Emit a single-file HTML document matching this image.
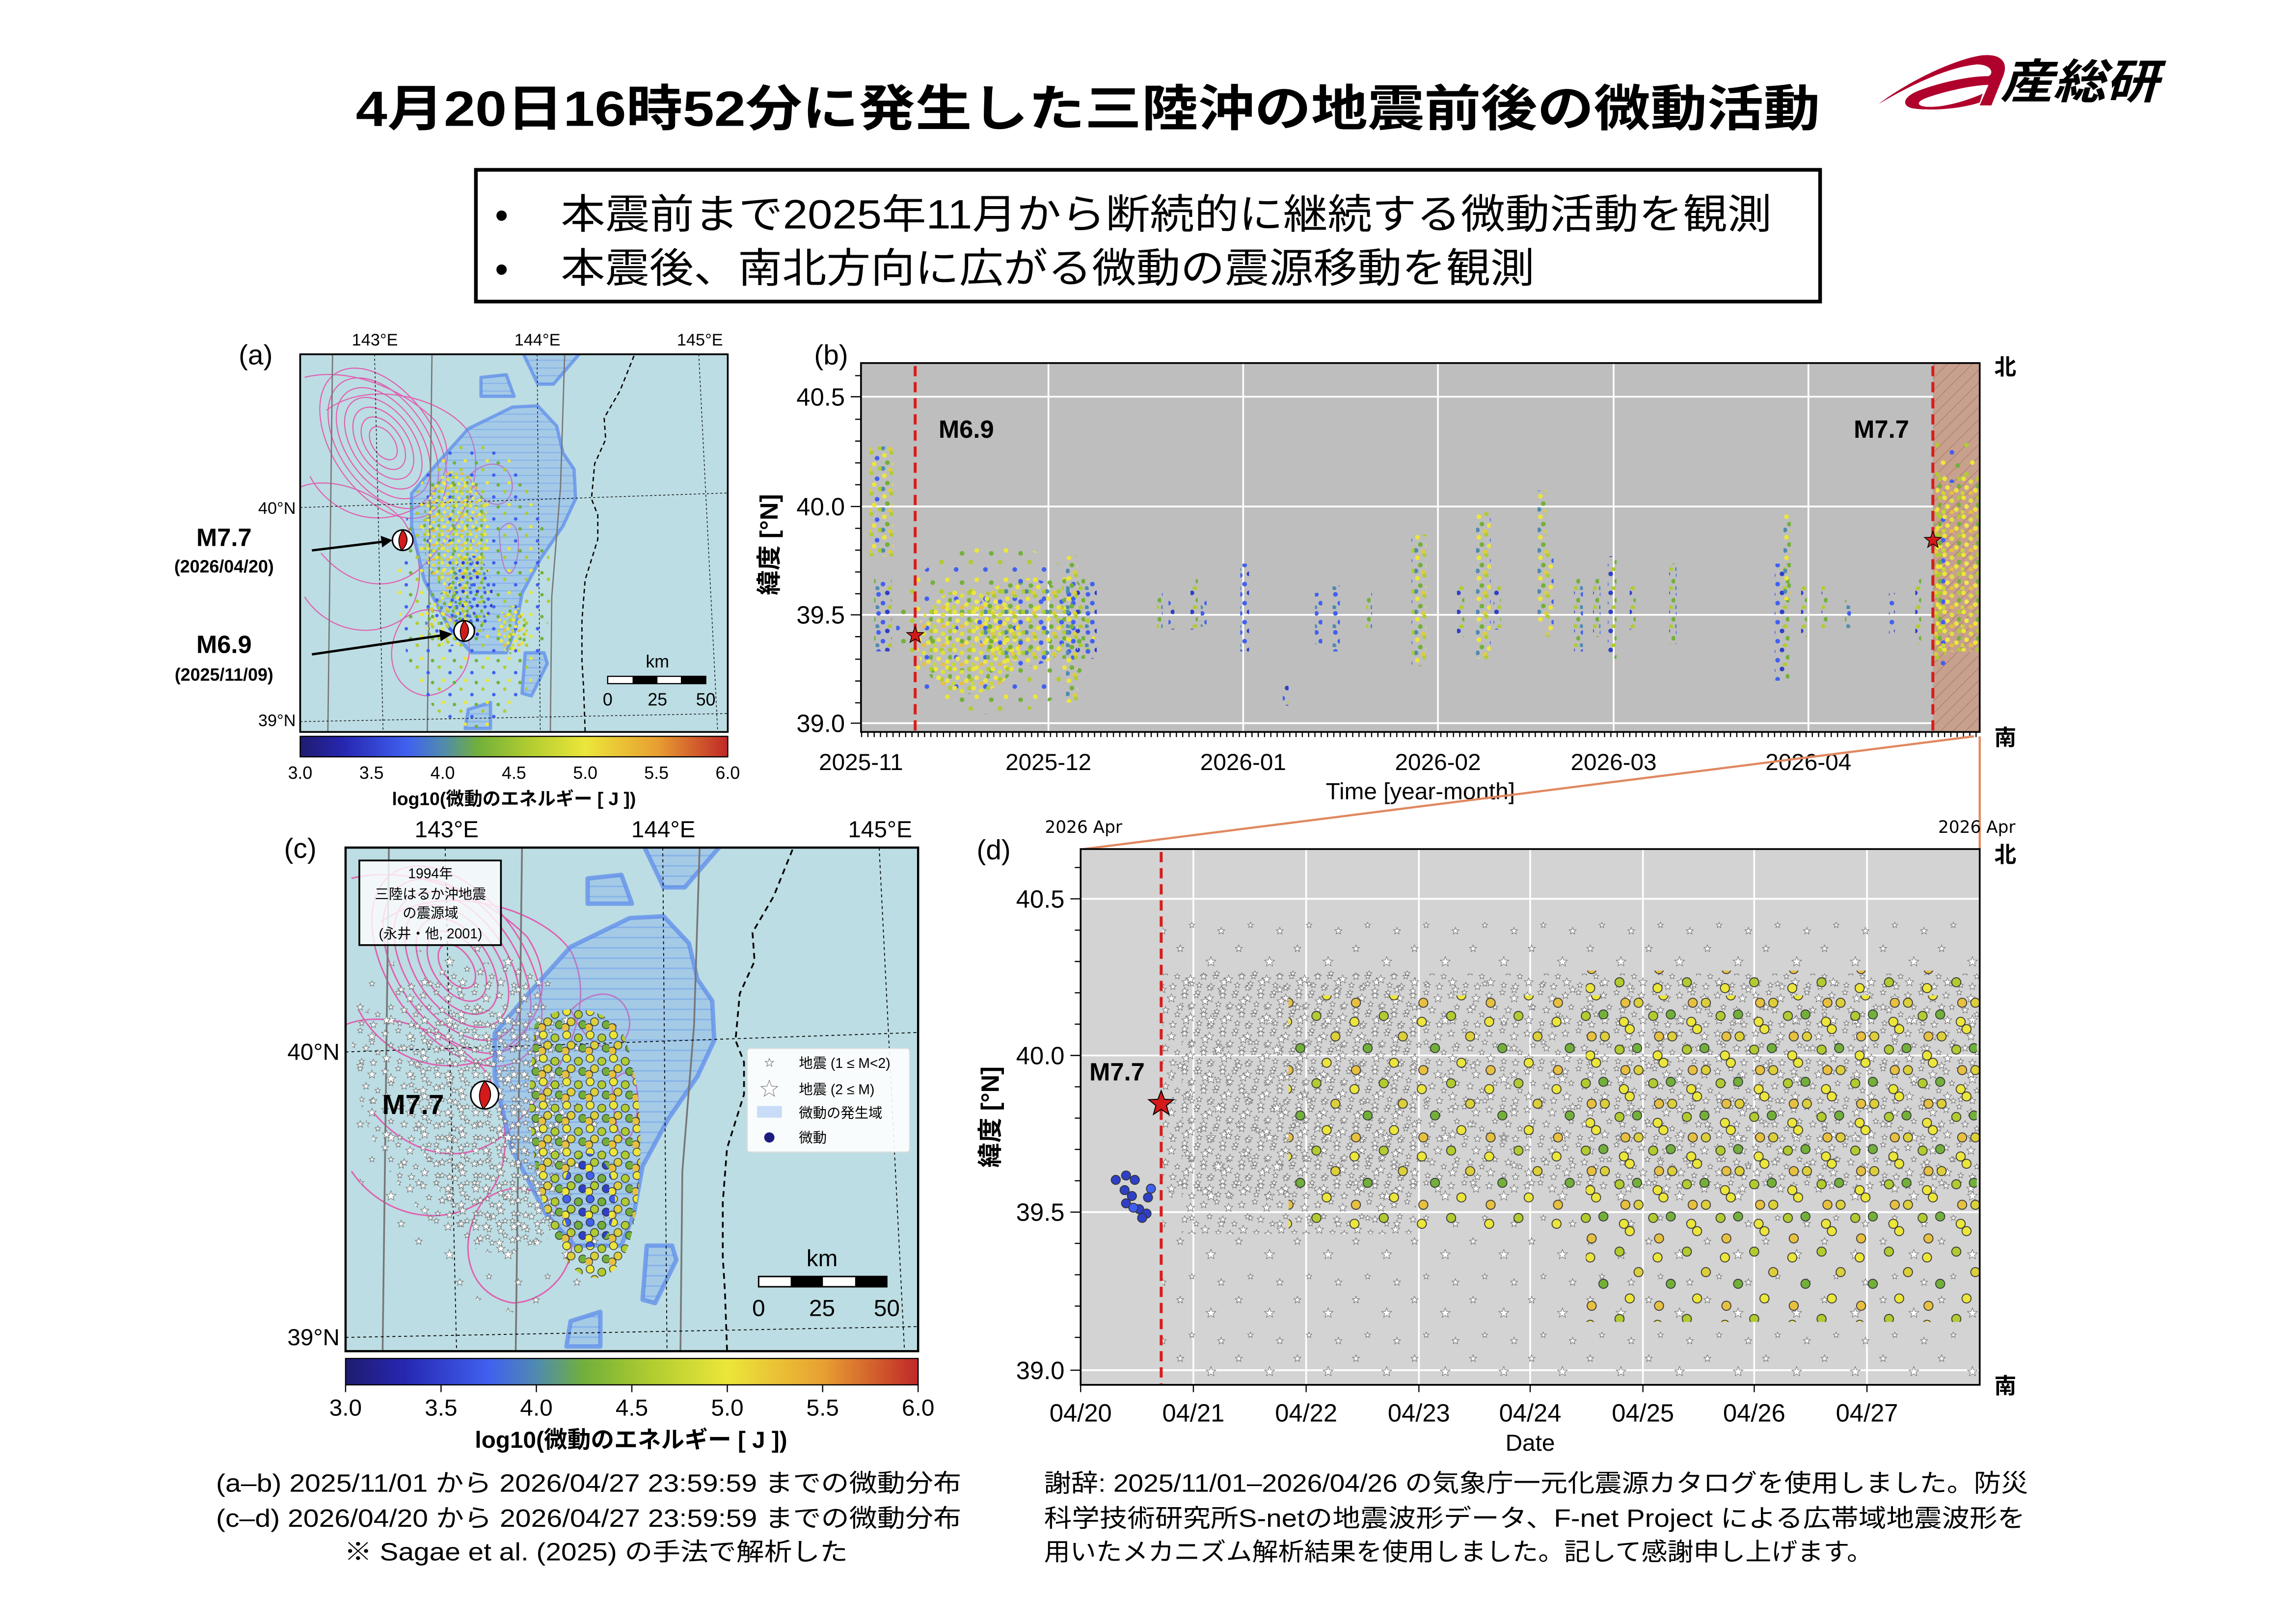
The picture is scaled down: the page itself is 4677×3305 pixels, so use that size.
<!DOCTYPE html>
<html><head><meta charset="utf-8">
<style>
html,body{margin:0;padding:0;background:#fff;}
svg{display:block;}
text{font-family:"Liberation Sans","Noto Sans CJK JP",sans-serif;}
.dv{font-family:"DejaVu Sans","Liberation Sans",sans-serif;}
</style></head>
<body>
<svg xmlns="http://www.w3.org/2000/svg" xmlns:xlink="http://www.w3.org/1999/xlink" width="4677" height="3305" viewBox="0 0 1568 1108">
<defs>
  <path id="st" d="M0,-1 L0.247,-0.34 L0.951,-0.309 L0.399,0.13 L0.588,0.809 L0,0.42 L-0.588,0.809 L-0.399,0.13 L-0.951,-0.309 L-0.247,-0.34Z" vector-effect="non-scaling-stroke"/>
  <linearGradient id="cb" x1="0" x2="1" y1="0" y2="0">
    <stop offset="0" stop-color="#1f1c6e"/><stop offset="0.1" stop-color="#2626b0"/>
    <stop offset="0.25" stop-color="#4060f0"/><stop offset="0.333" stop-color="#4f8ab0"/>
    <stop offset="0.417" stop-color="#72b03a"/><stop offset="0.533" stop-color="#b0cc30"/>
    <stop offset="0.667" stop-color="#ece63a"/><stop offset="0.833" stop-color="#e8a032"/>
    <stop offset="1" stop-color="#c02828"/>
  </linearGradient>
  <pattern id="hz" width="10" height="7" patternUnits="userSpaceOnUse">
    <rect width="10" height="7" fill="rgba(120,165,235,0.35)"/>
    <line x1="0" y1="3.5" x2="10" y2="3.5" stroke="rgba(100,150,240,0.45)" stroke-width="1"/>
  </pattern>
  <pattern id="dg" width="6" height="6" patternUnits="userSpaceOnUse" patternTransform="rotate(45)">
    <rect width="6" height="6" fill="#c8a08e"/>
    <line x1="0" y1="0" x2="0" y2="6" stroke="#b08070" stroke-width="1"/>
  </pattern>
  <pattern id="pA" width="14" height="14" patternUnits="userSpaceOnUse">
    <circle cx="2" cy="3" r="1.6" fill="#ece63a"/><circle cx="7" cy="1" r="1.6" fill="#b0cc30"/><circle cx="11" cy="5" r="1.6" fill="#4060f0"/>
    <circle cx="4" cy="8" r="1.6" fill="#72b03a"/><circle cx="9" cy="9" r="1.6" fill="#ece63a"/><circle cx="13" cy="12" r="1.6" fill="#b0cc30"/>
    <circle cx="1" cy="12" r="1.6" fill="#4f8ab0"/><circle cx="6" cy="13" r="1.6" fill="#dccf3a"/>
  </pattern>
  <pattern id="pY" width="13" height="13" patternUnits="userSpaceOnUse">
    <circle cx="2" cy="2" r="1.6" fill="#ece63a"/><circle cx="7" cy="4" r="1.6" fill="#dde040"/><circle cx="12" cy="2" r="1.6" fill="#b0cc30"/>
    <circle cx="4" cy="8" r="1.6" fill="#f0e84a"/><circle cx="10" cy="10" r="1.6" fill="#ece63a"/><circle cx="12" cy="7" r="1.6" fill="#72b03a"/>
    <circle cx="7" cy="12" r="1.6" fill="#e8c040"/><circle cx="1" cy="12" r="1.6" fill="#c8d838"/>
  </pattern>
  <pattern id="pB" width="13" height="13" patternUnits="userSpaceOnUse">
    <circle cx="2" cy="3" r="1.6" fill="#4060f0"/><circle cx="8" cy="2" r="1.6" fill="#2f40c8"/><circle cx="12" cy="7" r="1.6" fill="#72b03a"/>
    <circle cx="5" cy="9" r="1.6" fill="#4060f0"/><circle cx="10" cy="12" r="1.6" fill="#b0cc30"/><circle cx="1" cy="12" r="1.6" fill="#4f8ab0"/>
  </pattern>
  <pattern id="pS" width="20" height="20" patternUnits="userSpaceOnUse">
    <circle cx="3" cy="4" r="1.6" fill="#b0cc30"/><circle cx="13" cy="9" r="1.6" fill="#4060f0"/><circle cx="7" cy="16" r="1.6" fill="#ece63a"/><circle cx="17" cy="18" r="1.6" fill="#72b03a"/>
  </pattern>
  <pattern id="pSt" width="26" height="26" patternUnits="userSpaceOnUse">
    <g fill="#fff" stroke="#666" stroke-width="1">
      <use href="#st" transform="translate(3,4) scale(2.5)"/><use href="#st" transform="translate(12,2) scale(2)"/><use href="#st" transform="translate(20,6) scale(3)"/>
      <use href="#st" transform="translate(7,12) scale(2)"/><use href="#st" transform="translate(16,14) scale(2.5)"/><use href="#st" transform="translate(24,17) scale(2)"/>
      <use href="#st" transform="translate(4,21) scale(3)"/><use href="#st" transform="translate(13,23) scale(2)"/><use href="#st" transform="translate(21,24) scale(2.5)"/>
    </g>
  </pattern>
  <pattern id="pSt2" width="40" height="40" patternUnits="userSpaceOnUse">
    <g fill="#fff" stroke="#666" stroke-width="1">
      <use href="#st" transform="translate(6,8) scale(2.5)"/><use href="#st" transform="translate(27,17) scale(3.5)"/><use href="#st" transform="translate(14,32) scale(2)"/><use href="#st" transform="translate(34,36) scale(2.5)"/>
    </g>
  </pattern>
  <pattern id="pC" width="46" height="46" patternUnits="userSpaceOnUse">
    <g stroke="#333" stroke-width="0.6">
      <circle cx="5" cy="8" r="3.1" fill="#ece63a"/><circle cx="25" cy="4" r="3.1" fill="#b0cc30"/><circle cx="38" cy="18" r="3.1" fill="#dccf3a"/>
      <circle cx="14" cy="26" r="3.1" fill="#72b03a"/><circle cx="32" cy="36" r="3.1" fill="#ece63a"/><circle cx="6" cy="41" r="3.1" fill="#e8c040"/>
    </g>
  </pattern>
  <pattern id="pC2" width="16" height="16" patternUnits="userSpaceOnUse">
    <g stroke="#333" stroke-width="0.5">
      <circle cx="3" cy="3" r="2.7" fill="#ece63a"/><circle cx="11" cy="5" r="2.7" fill="#b0cc30"/><circle cx="6" cy="10" r="2.7" fill="#dccf3a"/>
      <circle cx="14" cy="12" r="2.7" fill="#72b03a"/><circle cx="2" cy="14" r="2.7" fill="#e8c040"/>
    </g>
  </pattern>
  <pattern id="pC3" width="16" height="16" patternUnits="userSpaceOnUse">
    <g stroke="#333" stroke-width="0.5">
      <circle cx="3" cy="3" r="2.7" fill="#4060f0"/><circle cx="11" cy="5" r="2.7" fill="#72b03a"/><circle cx="6" cy="10" r="2.7" fill="#b0cc30"/>
      <circle cx="14" cy="12" r="2.7" fill="#2f40c8"/><circle cx="2" cy="14" r="2.7" fill="#ece63a"/>
    </g>
  </pattern>
  <clipPath id="cpc"><rect x="236" y="579" width="391" height="344"/></clipPath>
  <clipPath id="cpb"><rect x="588" y="248" width="764" height="252"/></clipPath>
  <clipPath id="cpd"><rect x="738" y="580" width="614" height="366"/></clipPath>
  <g id="basemap">
    <g clip-path="url(#cpc)">
      <rect x="236" y="579" width="391" height="344" fill="#bcdde3"/>
      <g fill="none" stroke="#e060b0" stroke-width="1">
        <ellipse cx="312" cy="660" rx="10" ry="17" transform="rotate(-35 312 660)"/>
        <ellipse cx="312" cy="660" rx="16" ry="27" transform="rotate(-35 312 660)"/>
        <ellipse cx="312" cy="660" rx="22" ry="37" transform="rotate(-35 312 660)"/>
        <ellipse cx="312" cy="660" rx="28" ry="47" transform="rotate(-35 312 660)"/>
        <ellipse cx="312" cy="660" rx="34" ry="57" transform="rotate(-35 312 660)"/>
        <ellipse cx="312" cy="660" rx="40" ry="67" transform="rotate(-35 312 660)"/>
        <ellipse cx="312" cy="660" rx="46" ry="77" transform="rotate(-35 312 660)"/>
        <path d="M240,600 C280,590 330,610 360,640 C380,670 370,700 340,720 C300,740 260,720 245,690"/>
        <path d="M236,700 C260,690 300,700 330,730 C350,760 350,800 330,820 C300,840 260,830 240,800"/>
        <path d="M330,820 C360,800 380,820 390,840 C395,870 370,890 350,890 C320,885 310,850 330,820"/>
        <path d="M390,690 C410,670 430,680 430,700 C428,720 405,725 390,690"/>
        <path d="M260,630 C300,600 370,620 390,650 C410,690 380,740 350,770 C320,800 280,790 255,760"/>
        <path d="M418,740 C428,725 438,735 435,760 C432,785 420,790 418,740"/>
      </g>
      <g fill="url(#hz)" stroke="rgba(95,140,235,0.75)" stroke-width="3" stroke-linejoin="round">
        <polygon points="337.8,705.8 360.9,678.8 389.7,646.8 430.1,627.1 453.2,625.9 470.5,644.4 476.3,668.9 486.4,683.7 487.8,710.7 476.3,735.3 456.1,764.8 438.8,796.8 433,828.8 424.4,850.9 392.6,850.9 372.4,828.8 349.3,784.5 337.8,735.3"/>
        <polygon points="438.8,576 493.6,576 467.6,606.2 453.2,606.2"/>
        <polygon points="401.3,600.1 424.4,597.6 431.6,617.3 401.3,617.3"/>
        <polygon points="441.7,850.9 459,850.9 461.9,860.7 447.4,890.2 438.8,887.8"/>
        <polygon points="389.7,902.5 410,896.1 410,919.8 386.8,919.8"/>
      </g>
      <g stroke="#777" stroke-width="1.2" fill="none">
        <line x1="265.6" y1="579" x2="261.3" y2="923"/>
        <line x1="356.5" y1="579" x2="352.2" y2="923"/>
        <path d="M477.8,579 L474,700 L466,800 L464.7,923"/>
      </g>
      <g stroke="#000" stroke-width="0.6" stroke-dasharray="2,2" fill="none">
        <line x1="304" y1="579" x2="311.8" y2="923"/>
        <line x1="452.6" y1="579" x2="455.5" y2="923"/>
        <line x1="600.4" y1="579" x2="617.7" y2="923"/>
        <line x1="236" y1="718.6" x2="627" y2="705.3"/>
        <line x1="236" y1="913.6" x2="627" y2="906.2"/>
      </g>
      <polyline fill="none" stroke="#000" stroke-width="1.2" stroke-dasharray="4,3" points="541.2,580.4 528.3,612.4 513.9,637 515.3,656.6 505.2,678.8 502.3,710.7 508.1,725.5 508.1,747.6 496.5,784.5 493.6,821.4 493.6,858.3 495.1,882.9 496.5,922.2"/>
    </g>
  </g>
</defs>

<text x="743" y="86" text-anchor="middle" font-size="34" font-weight="bold" textLength="1000" lengthAdjust="spacingAndGlyphs">4月20日16時52分に発生した三陸沖の地震前後の微動活動</text>
<g>
  <path d="M1283,71 C1300,58 1330,42 1352,38 C1366,36 1372,42 1368,52 L1360,72 L1352,72 L1358,58 C1348,58 1330,62 1318,66 C1306,70 1310,73 1318,73 C1330,73 1345,68 1354,64 L1352,70 C1340,74 1320,76 1306,74 C1298,72 1300,66 1310,62 C1326,56 1345,52 1358,52 C1362,50 1360,44 1350,44 C1330,46 1305,58 1283,71 Z" fill="#b0002c"/>
  <text x="1366" y="67" font-size="32" font-weight="bold" font-style="italic" textLength="108" lengthAdjust="spacingAndGlyphs">産総研</text>
</g>

<rect x="325" y="116" width="918" height="90" fill="#fff" stroke="#000" stroke-width="2.5"/>
<text x="338" y="156" font-size="26">•</text>
<text x="338" y="193" font-size="26">•</text>
<text x="383" y="156" font-size="28" textLength="827" lengthAdjust="spacingAndGlyphs">本震前まで2025年11月から断続的に継続する微動活動を観測</text>
<text x="383" y="193" font-size="28" textLength="665" lengthAdjust="spacingAndGlyphs">本震後、南北方向に広がる微動の震源移動を観測</text>

<!-- ===== Panel (a) ===== -->
<text x="163" y="249" font-size="19">(a)</text>
<use href="#basemap" transform="translate(205,242) scale(0.747,0.75) translate(-236,-579)"/>
<g clip-path="url(#cpc)" transform="translate(205,242) scale(0.747,0.75) translate(-236,-579)">
  <ellipse cx="395" cy="790" rx="70" ry="130" fill="url(#pS)"/>
  <ellipse cx="378" cy="740" rx="30" ry="55" fill="url(#pY)"/>
  <ellipse cx="392" cy="800" rx="20" ry="38" fill="url(#pB)"/>
  <ellipse cx="372" cy="820" rx="22" ry="25" fill="url(#pA)"/>
  <ellipse cx="430" cy="830" rx="14" ry="22" fill="url(#pY)"/>
</g>
<rect x="205" y="242" width="292" height="258" fill="none" stroke="#000" stroke-width="1.2"/>
<g class="dv" font-size="11.5" text-anchor="middle">
  <text x="256" y="236">143°E</text><text x="367" y="236">144°E</text><text x="478" y="236">145°E</text>
</g>
<g class="dv" font-size="11.5" text-anchor="end">
  <text x="202" y="351">40°N</text><text x="202" y="496">39°N</text>
</g>
<rect x="415" y="462" width="67" height="5" fill="#fff" stroke="#000" stroke-width="0.8"/>
<rect x="432" y="462" width="17" height="5" fill="#000"/><rect x="465" y="462" width="17" height="5" fill="#000"/>
<g class="dv" font-size="12" text-anchor="middle"><text x="449" y="456">km</text><text x="415" y="482">0</text><text x="449" y="482">25</text><text x="482" y="482">50</text></g>
<circle cx="275" cy="369" r="7" fill="#fff" stroke="#000"/><path d="M275,362 Q281.3,369 274.3,376 Q270.1,369 275,362Z" fill="#d41a1a" stroke="#000" stroke-width="0.6"/>
<circle cx="317" cy="431" r="7" fill="#fff" stroke="#000"/><path d="M317,424 Q323.3,431 316.3,438 Q312.1,431 317,424Z" fill="#d41a1a" stroke="#000" stroke-width="0.6"/>
<text x="153" y="373" font-size="17" font-weight="bold" text-anchor="middle">M7.7</text>
<text x="153" y="391" font-size="12" font-weight="bold" text-anchor="middle">(2026/04/20)</text>
<text x="153" y="446" font-size="17" font-weight="bold" text-anchor="middle">M6.9</text>
<text x="153" y="465" font-size="12" font-weight="bold" text-anchor="middle">(2025/11/09)</text>
<g stroke="#000" stroke-width="1.6">
  <line x1="213" y1="376" x2="262" y2="370"/><line x1="213" y1="447" x2="302" y2="434"/>
</g>
<polygon points="268,369 260,366 261,374" fill="#000"/>
<polygon points="309,433 300,430 301,438" fill="#000"/>
<rect x="205" y="503" width="292" height="14" fill="url(#cb)" stroke="#000" stroke-width="0.8"/>
<g class="dv" font-size="12" text-anchor="middle">
  <text x="205" y="532">3.0</text><text x="253.7" y="532">3.5</text><text x="302.3" y="532">4.0</text><text x="351" y="532">4.5</text><text x="399.7" y="532">5.0</text><text x="448.3" y="532">5.5</text><text x="497" y="532">6.0</text>
</g>
<text x="351" y="550" font-size="12.5" font-weight="bold" text-anchor="middle">log10(微動のエネルギー [ J ])</text>

<!-- ===== Panel (b) ===== -->
<text x="556" y="249" font-size="19">(b)</text>
<rect x="588" y="248" width="764" height="252" fill="#bebebe"/>
<g stroke="#fff" stroke-width="1.2">
  <line x1="588" y1="271" x2="1352" y2="271"/><line x1="588" y1="346" x2="1352" y2="346"/><line x1="588" y1="420" x2="1352" y2="420"/><line x1="588" y1="494" x2="1352" y2="494"/>
  <line x1="716" y1="248" x2="716" y2="500"/><line x1="849" y1="248" x2="849" y2="500"/><line x1="982" y1="248" x2="982" y2="500"/><line x1="1102" y1="248" x2="1102" y2="500"/><line x1="1235" y1="248" x2="1235" y2="500"/>
</g>
<rect x="1320" y="248" width="32" height="252" fill="url(#dg)"/>
<g clip-path="url(#cpb)">
  <rect x="594" y="305" width="16" height="75" fill="url(#pA)"/>
  <rect x="597" y="395" width="12" height="50" fill="url(#pB)"/>
  <ellipse cx="680" cy="430" rx="68" ry="58" fill="url(#pS)"/>
  <ellipse cx="662" cy="438" rx="36" ry="36" fill="url(#pY)"/>
  <ellipse cx="700" cy="425" rx="34" ry="30" fill="url(#pA)"/>
  <rect x="725" y="395" width="24" height="55" fill="url(#pB)"/>
  <rect x="728" y="380" width="8" height="100" fill="url(#pA)"/>
  <g fill="url(#pB)">
    <rect x="790" y="405" width="4" height="25"/><rect x="798" y="410" width="4" height="20"/>
    <rect x="813" y="395" width="5" height="35"/><rect x="820" y="408" width="4" height="20"/>
    <rect x="847" y="385" width="6" height="60"/><rect x="876" y="468" width="4" height="14"/>
    <rect x="898" y="405" width="5" height="35"/><rect x="910" y="400" width="5" height="45"/>
    <rect x="933" y="405" width="4" height="25"/><rect x="995" y="400" width="5" height="35"/>
    <rect x="1020" y="400" width="5" height="30"/><rect x="1075" y="395" width="6" height="50"/>
    <rect x="1088" y="395" width="5" height="40"/><rect x="1098" y="380" width="6" height="70"/>
    <rect x="1113" y="400" width="4" height="30"/><rect x="1140" y="385" width="5" height="55"/>
    <rect x="1212" y="385" width="10" height="80"/><rect x="1230" y="400" width="4" height="35"/>
    <rect x="1244" y="400" width="4" height="30"/><rect x="1260" y="410" width="4" height="20"/>
    <rect x="1290" y="405" width="4" height="30"/><rect x="1308" y="395" width="4" height="45"/>
  </g>
  <g fill="url(#pA)">
    <rect x="964" y="365" width="10" height="90"/><rect x="1008" y="350" width="10" height="100"/>
    <rect x="1050" y="335" width="6" height="90"/><rect x="1056" y="375" width="5" height="60"/>
    <rect x="1218" y="350" width="5" height="60"/><rect x="1321" y="345" width="8" height="110"/>
  </g>
  <rect x="1322" y="325" width="30" height="120" fill="url(#pY)"/>
  <rect x="1322" y="300" width="30" height="30" fill="url(#pS)"/>
</g>
<line x1="625" y1="250" x2="625" y2="500" stroke="#d91c1c" stroke-width="2" stroke-dasharray="7,4"/>
<line x1="1320" y1="250" x2="1320" y2="500" stroke="#d91c1c" stroke-width="2" stroke-dasharray="7,4"/>
<use href="#st" transform="translate(625,434) scale(6)" fill="#d41a1a" stroke="#000" stroke-width="1.5"/>
<use href="#st" transform="translate(1320,369) scale(6)" fill="#d41a1a" stroke="#000" stroke-width="1.5"/>
<text x="641" y="299" font-size="17" font-weight="bold">M6.9</text>
<text x="1266" y="299" font-size="17" font-weight="bold">M7.7</text>
<rect x="588" y="248" width="764" height="252" fill="none" stroke="#000" stroke-width="1.2"/>
<path stroke="#000" stroke-width="0.8" d="M584,256.6H588M584,286.4H588M584,301.3H588M584,316.2H588M584,331.1H588M584,360.9H588M584,375.8H588M584,390.7H588M584,405.6H588M584,434.9H588M584,450.3H588M584,465.2H588M584,480.1H588M581,271H588M581,346H588M581,420H588M581,494H588"/>
<line x1="588" y1="502" x2="1352" y2="502" stroke="#000" stroke-width="3" stroke-dasharray="0.8,3.5"/>
<g font-size="17" text-anchor="end">
  <text x="577" y="277">40.5</text><text x="577" y="352">40.0</text><text x="577" y="426">39.5</text><text x="577" y="500">39.0</text>
</g>
<g font-size="16" text-anchor="middle">
  <text x="588" y="526">2025-11</text><text x="716" y="526">2025-12</text><text x="849" y="526">2026-01</text><text x="982" y="526">2026-02</text><text x="1102" y="526">2026-03</text><text x="1235" y="526">2026-04</text>
</g>
<text x="970" y="546" font-size="16" text-anchor="middle">Time [year-month]</text>
<text x="0" y="0" font-size="17" font-weight="bold" text-anchor="middle" transform="translate(531,372) rotate(-90)">緯度 [°N]</text>
<text x="1362" y="256" font-size="15" font-weight="bold">北</text>
<text x="1362" y="509" font-size="15" font-weight="bold">南</text>

<g stroke="#e08860" stroke-width="1.5">
  <line x1="1348" y1="503" x2="740" y2="580"/><line x1="1352" y1="503" x2="1352" y2="580"/>
</g>

<!-- ===== Panel (c) ===== -->
<text x="194" y="586" font-size="19">(c)</text>
<use href="#basemap"/>
<g clip-path="url(#cpc)">
  <path d="M240,690 C250,660 290,640 330,645 C360,650 380,670 395,700 C410,740 420,800 410,860 C400,900 360,905 330,890 C290,870 250,830 240,790 Z" fill="url(#pSt2)"/>
  <path d="M240,700 C270,670 320,650 360,660 C385,680 390,760 380,830 C360,870 320,860 290,830 C260,800 240,760 240,700 Z" fill="url(#pSt)"/>
  <path d="M270,690 C300,670 340,675 365,700 C385,730 380,800 365,835 C340,855 305,830 290,800 C275,770 265,730 270,690 Z" fill="url(#pSt)" transform="translate(9,11)"/>
  <ellipse cx="330" cy="800" rx="35" ry="40" fill="url(#pSt)"/>
  <path d="M365,700 C380,685 410,685 425,705 C440,740 440,800 432,840 C425,875 405,880 390,865 C370,840 360,780 362,740 Z" fill="url(#pC2)"/>
  <ellipse cx="402" cy="820" rx="18" ry="32" fill="url(#pC3)"/>
</g>
<rect x="236" y="579" width="391" height="344" fill="none" stroke="#000" stroke-width="1.5"/>
<g class="dv" font-size="16" text-anchor="middle">
  <text x="305" y="572">143°E</text><text x="453" y="572">144°E</text><text x="601" y="572">145°E</text>
</g>
<g class="dv" font-size="16" text-anchor="end">
  <text x="232" y="724">40°N</text><text x="232" y="919">39°N</text>
</g>
<rect x="245.4" y="587.8" width="96.7" height="57.8" fill="rgba(255,255,255,0.8)" stroke="#000" stroke-width="1.2"/>
<g font-size="9.5" text-anchor="middle">
  <text x="294" y="600">1994年</text><text x="294" y="614">三陸はるか沖地震</text><text x="294" y="627">の震源域</text><text x="294" y="641">(永井・他, 2001)</text>
</g>
<rect x="510.3" y="716.2" width="110.9" height="70.8" rx="2" fill="rgba(255,255,255,0.9)" stroke="#ddd" stroke-width="0.8"/>
<use href="#st" transform="translate(525.4,726) scale(3)" fill="#fff" stroke="#666" stroke-width="1"/>
<use href="#st" transform="translate(525.4,744) scale(6)" fill="#fff" stroke="#666" stroke-width="1"/>
<rect x="517" y="755.5" width="17" height="8" fill="#c8dcf8"/>
<circle cx="525.4" cy="777" r="3.5" fill="#1c1c80"/>
<g font-size="9.5">
  <text x="545.6" y="729.5">地震 (1 ≤ M&lt;2)</text><text x="545.6" y="747.5">地震 (2 ≤ M)</text><text x="545.6" y="763.5">微動の発生域</text><text x="545.6" y="780.5">微動</text>
</g>
<rect x="518.1" y="872" width="87.5" height="7" fill="#fff" stroke="#000" stroke-width="1"/>
<rect x="540" y="872" width="22" height="7" fill="#000"/><rect x="584" y="872" width="21.6" height="7" fill="#000"/>
<g class="dv" font-size="16" text-anchor="middle"><text x="561.4" y="865">km</text><text x="518.1" y="899">0</text><text x="561.4" y="899">25</text><text x="605.6" y="899">50</text></g>
<circle cx="331" cy="748" r="9.5" fill="#fff" stroke="#000"/><path d="M331,738.5 Q339.55,748 330.05,757.5 Q324.35,748 331,738.5Z" fill="#d41a1a" stroke="#000" stroke-width="0.6"/>
<text x="261" y="761" font-size="19" font-weight="bold">M7.7</text>
<rect x="236" y="928" width="391" height="18" fill="url(#cb)" stroke="#000" stroke-width="0.8"/>
<path stroke="#000" stroke-width="0.8" d="M236,946V951M301.2,946V951M366.3,946V951M431.5,946V951M496.7,946V951M561.8,946V951M627,946V951"/>
<g class="dv" font-size="16" text-anchor="middle">
  <text x="236" y="967">3.0</text><text x="301.2" y="967">3.5</text><text x="366.3" y="967">4.0</text><text x="431.5" y="967">4.5</text><text x="496.7" y="967">5.0</text><text x="561.8" y="967">5.5</text><text x="627" y="967">6.0</text>
</g>
<text x="431" y="989" font-size="16" font-weight="bold" text-anchor="middle">log10(微動のエネルギー [ J ])</text>

<!-- ===== Panel (d) ===== -->
<text x="667" y="587" font-size="19">(d)</text>
<text class="dv" x="740" y="569" font-size="11.5" text-anchor="middle">2026 Apr</text>
<text class="dv" x="1350" y="569" font-size="11.5" text-anchor="middle">2026 Apr</text>
<rect x="738" y="580" width="614" height="366" fill="#d3d3d3"/>
<g stroke="#fff" stroke-width="1.2">
  <line x1="738" y1="614" x2="1352" y2="614"/><line x1="738" y1="721" x2="1352" y2="721"/><line x1="738" y1="828" x2="1352" y2="828"/><line x1="738" y1="936" x2="1352" y2="936"/>
  <line x1="815" y1="580" x2="815" y2="946"/><line x1="892" y1="580" x2="892" y2="946"/><line x1="969" y1="580" x2="969" y2="946"/><line x1="1045" y1="580" x2="1045" y2="946"/><line x1="1122" y1="580" x2="1122" y2="946"/><line x1="1198" y1="580" x2="1198" y2="946"/><line x1="1275" y1="580" x2="1275" y2="946"/>
</g>
<g clip-path="url(#cpd)">
  <rect x="794" y="620" width="558" height="320" fill="url(#pSt2)"/>
  <rect x="794" y="665" width="558" height="150" fill="url(#pSt)"/>
  <rect x="794" y="650" width="160" height="180" fill="url(#pSt)" transform="translate(13,13)"/>
  <rect x="794" y="690" width="100" height="110" fill="url(#pSt2)" transform="translate(5,20)"/>
  <rect x="880" y="680" width="470" height="160" fill="url(#pC)"/>
  <rect x="1060" y="640" width="290" height="240" fill="url(#pC)" transform="translate(23,23)"/>
  <g stroke="#333" stroke-width="0.6" fill="#2f40c8">
    <circle cx="762" cy="806" r="3.1"/><circle cx="769" cy="803" r="3.1"/><circle cx="775" cy="806" r="3.1"/><circle cx="768" cy="813" r="3.1"/>
    <circle cx="773" cy="817" r="3.1"/><circle cx="769" cy="822" r="3.1"/><circle cx="778" cy="826" r="3.1"/><circle cx="783" cy="829" r="3.1"/>
    <circle cx="784" cy="818" r="3.1"/><circle cx="780" cy="832" r="3.1"/><circle cx="774" cy="825" r="3.1" fill="#4060f0"/><circle cx="786" cy="812" r="3.1" fill="#4060f0"/>
  </g>
</g>
<line x1="793" y1="582" x2="793" y2="946" stroke="#d91c1c" stroke-width="2" stroke-dasharray="7,4"/>
<use href="#st" transform="translate(793,754) scale(9)" fill="#d41a1a" stroke="#000" stroke-width="2"/>
<text x="744" y="738" font-size="17" font-weight="bold">M7.7</text>
<rect x="738" y="580" width="614" height="366" fill="none" stroke="#000" stroke-width="1.2"/>
<path stroke="#000" stroke-width="0.8" d="M734,592.6H738M734,635.4H738M734,656.8H738M734,678.2H738M734,699.6H738M734,742.4H738M734,763.8H738M734,785.2H738M734,806.6H738M734,849.4H738M734,870.8H738M734,892.2H738M734,913.6H738M731,614H738M731,721H738M731,828H738M731,936H738M738,946V951M815,946V951M892,946V951M969,946V951M1045,946V951M1122,946V951M1198,946V951M1275,946V951"/>
<g font-size="17" text-anchor="end">
  <text x="727" y="620">40.5</text><text x="727" y="727">40.0</text><text x="727" y="834">39.5</text><text x="727" y="942">39.0</text>
</g>
<g font-size="17" text-anchor="middle">
  <text x="738" y="971">04/20</text><text x="815" y="971">04/21</text><text x="892" y="971">04/22</text><text x="969" y="971">04/23</text><text x="1045" y="971">04/24</text><text x="1122" y="971">04/25</text><text x="1198" y="971">04/26</text><text x="1275" y="971">04/27</text>
</g>
<text x="1045" y="991" font-size="16" text-anchor="middle">Date</text>
<text x="0" y="0" font-size="17" font-weight="bold" text-anchor="middle" transform="translate(682,763) rotate(-90)">緯度 [°N]</text>
<text x="1362" y="589" font-size="15" font-weight="bold">北</text>
<text x="1362" y="952" font-size="15" font-weight="bold">南</text>

<g font-size="17" text-anchor="middle">
  <text x="402" y="1019" textLength="509" lengthAdjust="spacingAndGlyphs">(a–b) 2025/11/01 から 2026/04/27 23:59:59 までの微動分布</text>
  <text x="402" y="1043" textLength="509" lengthAdjust="spacingAndGlyphs">(c–d) 2026/04/20 から 2026/04/27 23:59:59 までの微動分布</text>
  <text x="407" y="1066" textLength="344" lengthAdjust="spacingAndGlyphs">※ Sagae et al. (2025) の手法で解析した</text>
</g>
<g font-size="17">
  <text x="713" y="1019" textLength="672" lengthAdjust="spacingAndGlyphs">謝辞: 2025/11/01–2026/04/26 の気象庁一元化震源カタログを使用しました。防災</text>
  <text x="713" y="1043" textLength="670" lengthAdjust="spacingAndGlyphs">科学技術研究所S-netの地震波形データ、F-net Project による広帯域地震波形を</text>
  <text x="713" y="1066" textLength="566" lengthAdjust="spacingAndGlyphs">用いたメカニズム解析結果を使用しました。記して感謝申し上げます。</text>
</g>
</svg>
</body></html>
